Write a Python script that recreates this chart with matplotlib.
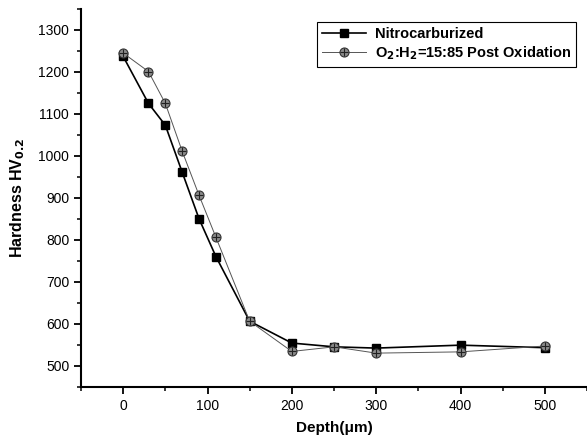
import matplotlib
matplotlib.use("Agg")
import matplotlib.pyplot as plt
from matplotlib.ticker import MultipleLocator
from matplotlib.legend_handler import HandlerTuple

depth = [0, 30, 50, 70, 90, 110, 150, 200, 250, 300, 400, 500]
nitro = [1237, 1125, 1073, 961, 850, 760, 606, 554, 545, 542, 549, 543]
oxid = [1245, 1201, 1125, 1011, 906, 806, 606, 534, 545, 530, 533, 547]

plt.rcParams['font.family'] = ['Liberation Sans', 'DejaVu Sans']

fig = plt.figure(figsize=(5.87, 4.48), dpi=100)
ax = fig.add_axes([81/587, 1-386.7/448, 1-81/587, (386.7-9)/448])

l1, = ax.plot(depth, nitro, color='black', lw=1.2, marker='s', ms=6,
              mfc='black', mec='black')
l2, = ax.plot(depth, oxid, color='#555555', lw=0.7, marker='o', ms=6.5,
              mfc='#8a8a8a', mec='#333333', mew=0.8)
l3, = ax.plot(depth, oxid, ls='none', marker='+', ms=6, color='#222222', mew=0.8)

ax.set_xlim(-50, 550)
ax.set_ylim(450, 1350)
ax.xaxis.set_major_locator(MultipleLocator(100))
ax.xaxis.set_minor_locator(MultipleLocator(50))
ax.yaxis.set_major_locator(MultipleLocator(100))
ax.yaxis.set_minor_locator(MultipleLocator(50))
ax.set_yticks(range(500, 1301, 100))
ax.spines['top'].set_visible(False)
ax.spines['right'].set_visible(False)
ax.spines['left'].set_linewidth(1.5)
ax.spines['bottom'].set_linewidth(1.5)
ax.tick_params(which='major', direction='out', length=5, width=1.3, labelsize=10)
ax.tick_params(which='minor', direction='out', length=3, width=1.1)

ax.set_xlabel('Depth(μm)', fontsize=11, fontweight='bold', labelpad=6)
ax.set_ylabel('Hardness HV$_{\\mathbf{0.2}}$', fontsize=11.5, fontweight='bold', labelpad=8)

leg = ax.legend([l1, (l2, l3)],
                ['Nitrocarburized', 'O$_{\\mathbf{2}}$:H$_{\\mathbf{2}}$=15:85 Post Oxidation'],
                handler_map={tuple: HandlerTuple(ndivide=1)},
                loc='upper right', bbox_to_anchor=(0.978, 0.966), borderaxespad=0,
                fancybox=False, edgecolor='black', framealpha=1,
                prop={'weight': 'bold', 'size': 10.5}, handlelength=3.0,
                borderpad=0.35, labelspacing=0.25, handletextpad=0.6)
leg.get_frame().set_linewidth(0.8)

fig.savefig('out.png', dpi=100)
